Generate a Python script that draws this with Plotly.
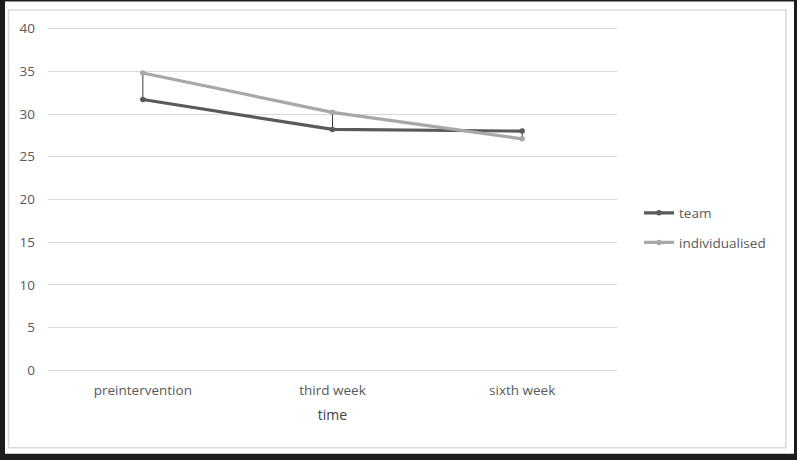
import plotly.graph_objects as go

categories = ["preintervention", "third week", "sixth week"]
team = [31.7, 28.2, 28.0]
individualised = [34.8, 30.2, 27.1]
y_ticks = [0, 5, 10, 15, 20, 25, 30, 35, 40]

W, H = 797, 460
UNIT = (370 - 29) / 40.0
L, R = 48, 617
T, B = 29 - UNIT, 370 + UNIT

def px(x):
    return (x - L) / (R - L)

def py(y):
    return (B - y) / (B - T)

fig = go.Figure()

# high-low lines
hx, hy = [], []
for c, a, b in zip(categories, team, individualised):
    hx += [c, c, None]
    hy += [min(a, b), max(a, b), None]
fig.add_trace(go.Scatter(x=hx, y=hy, mode="lines", line=dict(color="#3a3a3a", width=1),
                         showlegend=False, hoverinfo="skip"))

fig.add_trace(go.Scatter(x=categories, y=team, name="team", mode="lines+markers",
                         legendgroup="a",
                         line=dict(color="#5a5a5a", width=3.2),
                         marker=dict(color="#5a5a5a", size=5.5)))
fig.add_trace(go.Scatter(x=categories, y=individualised, name="individualised", mode="lines+markers",
                         legendgroup="b",
                         line=dict(color="#a8a8a8", width=3.2),
                         marker=dict(color="#a8a8a8", size=5.5)))

shapes = [
    dict(type="rect", xref="paper", yref="paper", layer="below",
         x0=px(5), x1=px(794), y0=py(453), y1=py(2),
         fillcolor="white", line=dict(width=0)),
    dict(type="rect", xref="paper", yref="paper", layer="below",
         x0=px(8.5), x1=px(786), y0=py(447), y1=py(10.5),
         fillcolor="rgba(0,0,0,0)", line=dict(color="#d9d9d9", width=1.5)),
]

fig.update_layout(
    width=W, height=H,
    margin=dict(l=L, r=W - R, t=T, b=H - B),
    paper_bgcolor="#1c1c1c",
    plot_bgcolor="white",
    font=dict(family="Open Sans", size=13.5, color="#595959"),
    shapes=shapes,
    legend=dict(x=px(639), y=py(228), yanchor="middle", xanchor="left",
                bgcolor="rgba(0,0,0,0)", font=dict(size=13.5, color="#595959"),
                tracegroupgap=9, itemwidth=30),
    xaxis=dict(type="category", range=[-0.5, 2.5], showgrid=False, zeroline=False,
               showline=False, ticks="", ticklabelstandoff=1,
               title=dict(text="time", font=dict(size=14, color="#404040"), standoff=12)),
    yaxis=dict(range=[-1, 41], tickvals=y_ticks, showgrid=True, gridcolor="#d9d9d9",
               gridwidth=1, zeroline=False, showline=False, ticks="",
               ticklabelstandoff=12),
)

fig.write_html("out.html", config={"displayModeBar": False},
               post_script="document.body.style.margin='0';document.body.style.padding='0';")
